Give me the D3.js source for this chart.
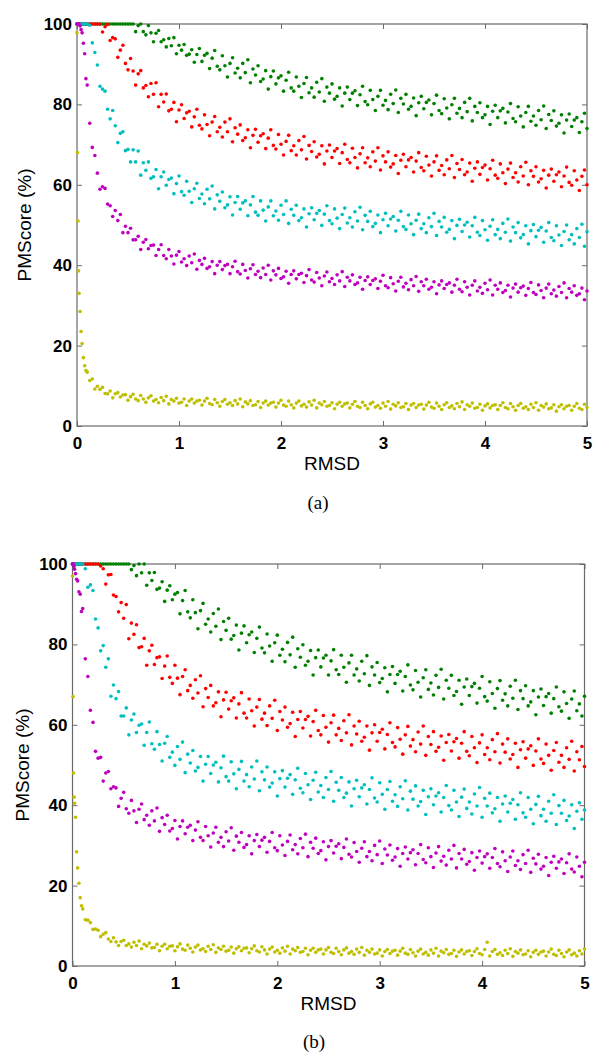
<!DOCTYPE html>
<html><head><meta charset="utf-8">
<script src="https://cdn.jsdelivr.net/npm/d3@7"></script>
<style>body{margin:0;background:#fff}svg{display:block}</style>
</head><body>
<svg id="chart" width="600" height="1062"></svg>
<script>
// shared RMSD sample positions
const rmsd = [0,0.005,0.01,0.015,0.02,0.03,0.04,0.05,0.0625,0.075,0.0875,
0.1,0.125,0.15,0.175,0.2,0.225,0.25,0.275,
0.3,0.325,0.35,0.375,0.4,0.425,0.45,0.475,
0.5,0.525,0.55,0.575,0.6,0.625,0.65,0.675,
0.7,0.725,0.75,0.775,0.8,0.825,0.85,0.875,
0.9,0.925,0.95,0.975,1,1.025,1.05,1.075,
1.1,1.125,1.15,1.175,1.2,1.225,1.25,1.275,
1.3,1.325,1.35,1.375,1.4,1.425,1.45,1.475,
1.5,1.525,1.55,1.575,1.6,1.625,1.65,1.675,
1.7,1.725,1.75,1.775,1.8,1.825,1.85,1.875,
1.9,1.925,1.95,1.975,2,2.025,2.05,2.075,
2.1,2.125,2.15,2.175,2.2,2.225,2.25,2.275,
2.3,2.325,2.35,2.375,2.4,2.425,2.45,2.475,
2.5,2.525,2.55,2.575,2.6,2.625,2.65,2.675,
2.7,2.725,2.75,2.775,2.8,2.825,2.85,2.875,
2.9,2.925,2.95,2.975,3,3.025,3.05,3.075,
3.1,3.125,3.15,3.175,3.2,3.225,3.25,3.275,
3.3,3.325,3.35,3.375,3.4,3.425,3.45,3.475,
3.5,3.525,3.55,3.575,3.6,3.625,3.65,3.675,
3.7,3.725,3.75,3.775,3.8,3.825,3.85,3.875,
3.9,3.925,3.95,3.975,4,4.025,4.05,4.075,
4.1,4.125,4.15,4.175,4.2,4.225,4.25,4.275,
4.3,4.325,4.35,4.375,4.4,4.425,4.45,4.475,
4.5,4.525,4.55,4.575,4.6,4.625,4.65,4.675,
4.7,4.725,4.75,4.775,4.8,4.825,4.85,4.875,
4.9,4.925,4.95,4.975,5];

const xTicks = [0,1,2,3,4,5];
const yTicks = [0,20,40,60,80,100];
const seriesColors = ["#008000","#ff0000","#00bfbf","#bf00bf","#bfbf00"];
const panelLabels = ["(a)","(b)"];
const xTitle = "RMSD";
const yTitle = "PMScore (%)";

// ---- panel (a) PMScore values ----
const aGreen = [100,100,100,100,100,100,100,100,100,100,100,
100,100,100,100,100,100,100,100,
100,100,100,100,100,100,100,100,
100,100,100,98.1,99.6,100,98.1,97.3,
99.6,97.8,95.6,97.7,98.4,95.6,96.1,94.3,
96.4,94.6,96.6,92.6,94.7,93.5,94.9,92.2,
92.5,93.6,90.5,92.4,93.9,90.7,92.2,92.7,
88.9,91.5,93.4,89.5,88.6,92.1,89.6,86.8,
90.2,91.6,87.8,89.0,86.6,90.2,87.9,91.1,
85.4,88.8,87.3,89.6,85.7,86.3,88.4,83.8,
86.9,88.3,85.1,86.6,87.1,83.3,86.0,88.0,
84.1,83.3,86.8,84.5,81.7,85.2,86.7,82.9,
84.1,81.8,85.5,83.1,86.4,80.8,84.3,82.8,
85.1,81.3,82.0,84.1,79.6,82.8,84.3,81.2,
82.8,83.4,79.7,82.4,84.5,80.7,79.9,83.5,
81.2,78.5,82.0,83.5,79.8,81.0,78.7,82.5,
80.2,83.6,78.0,81.5,80.1,82.5,78.8,79.5,
81.6,77.2,80.4,82.0,78.9,80.5,81.1,77.4,
80.2,82.3,78.5,77.7,81.4,79.1,76.4,79.9,
81.5,77.8,79.0,76.7,80.5,78.2,81.5,75.9,
79.5,78.0,80.4,76.7,77.4,79.5,75.0,78.3,
79.8,76.7,78.4,79.0,75.4,78.1,80.2,76.5,
75.7,79.4,77.1,74.4,78.0,79.5,75.8,77.1,
74.8,78.5,76.2,79.6,74.0,77.5,76.0,78.4,
74.6,75.3,77.4,72.9,76.1,77.6,74.5,76.1,
76.7,73.0,75.7,77.8,74.0];

const aRed = [100,100,100,100,100,100,100,100,100,100,100,
100,100,100,100,100,100,98.0,99.3,
99.9,95.9,96.6,96.3,91.7,93.5,94.7,90.2,
88.6,91.4,88.3,84.8,87.6,88.4,84.1,84.7,
81.9,85.2,82.5,85.4,79.4,82.5,80.6,82.6,
78.4,78.8,80.5,75.7,78.6,79.9,76.5,77.9,
78.3,74.4,76.9,78.8,74.8,73.9,77.4,75.0,
72.2,75.6,77.0,73.2,74.3,71.9,75.6,73.2,
76.4,70.7,74.2,72.6,74.9,71.0,71.7,73.7,
69.2,72.3,73.8,70.6,72.2,72.7,69.0,71.6,
73.7,69.8,68.9,72.5,70.1,67.4,70.8,72.3,
68.5,69.7,67.4,71.0,68.7,72.0,66.4,69.8,
68.3,70.7,66.9,67.6,69.7,65.2,68.4,69.9,
66.8,68.4,69.0,65.3,68.0,70.1,66.3,65.5,
69.1,66.8,64.2,67.7,69.2,65.5,66.7,64.5,
68.2,65.9,69.2,63.7,67.2,65.7,68.2,64.4,
65.2,67.3,62.8,66.1,67.6,64.5,66.2,66.8,
63.2,65.9,68.0,64.3,63.5,67.1,64.9,62.2,
65.7,67.2,63.6,64.8,62.5,66.2,64.0,67.3,
61.8,65.3,63.8,66.3,62.5,63.2,65.4,60.9,
64.1,65.7,62.6,64.3,64.9,61.2,64.0,66.1,
62.4,61.6,65.2,63.0,60.3,63.9,65.4,61.8,
63.0,60.7,64.5,62.2,65.6,60.0,63.5,62.1,
64.5,60.7,61.5,63.6,59.2,62.4,63.9,60.9,
62.5,63.2,59.5,62.2,64.4,60.6,59.9,63.5,
61.2,58.6,62.1,63.7,60.0];

const aCyan = [100,100,100,100,100,100,100,100,100,100,100,
100,99.7,95.3,92.9,89.8,84.5,83.8,83.3,
78.8,76.4,78.5,74.7,70.5,72.8,73.2,68.5,
68.8,65.7,68.7,65.7,68.4,62.4,65.5,63.6,
65.7,61.6,62.0,63.8,59.0,62.0,63.2,59.9,
61.3,61.7,57.8,60.3,62.2,58.3,57.4,60.9,
58.4,55.6,59.0,60.4,56.6,57.7,55.3,58.9,
56.5,59.7,54.0,57.5,55.9,58.2,54.3,55.0,
57.0,52.5,55.6,57.1,53.9,55.5,56.0,52.3,
55.0,57.1,53.2,52.4,56.0,53.7,51.0,54.5,
56.0,52.3,53.5,51.2,54.9,52.6,56.0,50.4,
53.9,52.4,54.9,51.1,51.8,54.0,49.5,52.8,
54.3,51.3,52.9,53.6,49.9,52.7,54.8,51.1,
50.3,54.0,51.7,49.1,52.6,54.2,50.5,51.8,
49.5,53.3,51.0,54.4,48.8,52.4,50.9,53.4,
49.6,50.4,52.5,48.1,51.3,52.9,49.8,51.5,
52.1,48.5,51.2,53.4,49.6,48.9,52.5,50.3,
47.6,51.2,52.7,49.1,50.3,48.1,51.8,49.6,
52.9,47.4,50.9,49.5,51.9,48.2,48.9,51.1,
46.6,49.9,51.4,48.4,50.0,50.7,47.0,49.8,
51.9,48.2,47.4,51.1,48.8,46.2,49.7,51.3,
47.6,48.9,46.6,50.4,48.2,51.5,46.0,49.5,
48.1,50.6,46.8,47.6,49.8,45.3,48.6,50.1,
47.1,48.7,49.4,45.7,48.5,50.6,46.9,46.1,
49.8,47.5,44.9,48.4,50.0,46.3,47.6,45.3,
49.1,46.9,50.2,44.7,48.3];

const aMagenta = [100,100,100,100,100,99.5,98.6,97.8,95.2,92.6,86.4,
84.8,75.3,69.3,67.3,62.9,58.9,59.5,59.1,
55.2,54.8,52.1,53.6,51.1,52.6,48.1,49.7,
48.1,49.2,46.3,46.3,47.2,43.9,45.7,46.4,
44.1,44.9,45.0,42.4,43.9,45.1,42.4,41.6,
43.9,42.3,40.3,42.5,43.4,40.8,41.6,39.9,
42.3,40.6,42.8,39.0,41.2,40.2,41.7,39.2,
39.6,40.9,37.9,40.0,40.9,38.9,39.9,40.2,
37.9,39.6,41.0,38.4,37.8,40.2,38.7,36.8,
39.1,40.1,37.7,38.5,36.9,39.3,37.7,40.0,
36.3,38.6,37.6,39.2,36.7,37.1,38.5,35.5,
37.7,38.6,36.6,37.7,38.0,35.7,37.4,38.9,
36.3,35.8,38.2,36.8,34.9,37.3,38.3,35.9,
36.7,35.2,37.6,36.1,38.4,34.7,37.0,36.1,
37.6,35.2,35.6,37.0,34.0,36.2,37.1,35.2,
36.2,36.6,34.2,36.0,37.5,34.9,34.4,36.9,
35.4,33.6,36.0,37.0,34.6,35.5,33.9,36.4,
34.9,37.2,33.5,35.9,34.9,36.5,34.0,34.5,
35.9,32.9,35.1,36.1,34.2,35.2,35.6,33.3,
35.0,36.5,34.0,33.4,35.9,34.5,32.6,35.0,
36.1,33.6,34.5,33.0,35.5,33.9,36.3,32.6,
35.0,34.0,35.6,33.2,33.7,35.0,32.1,34.3,
35.3,33.3,34.4,34.8,32.5,34.2,35.7,33.2,
32.7,35.1,33.7,31.9,34.3,35.3,32.9,33.8,
32.3,34.7,33.2,35.6,31.9,34.2,33.3,34.9,
32.5,32.9,34.3,31.4,33.6];

const aYellow = [97.8,68.0,51.0,38.6,33.0,28.5,23.5,20.5,17.0,15.0,13.8,
13.4,11.3,11.7,9.2,9.9,9.1,9.6,8.1,
8.0,8.7,7.0,8.0,8.3,7.2,7.7,7.8,
6.4,7.3,7.9,6.7,6.3,7.6,6.7,5.9,
7.0,7.5,6.2,6.6,5.8,7.1,6.3,7.4,
5.5,6.6,6.2,6.9,5.7,5.9,6.7,5.1,
6.2,6.7,5.7,6.2,6.4,5.2,6.2,6.9,
5.6,5.3,6.6,5.8,4.9,6.1,6.6,5.4,
5.8,5.1,6.3,5.5,6.7,4.8,6.0,5.5,
6.3,5.1,5.3,6.1,4.6,5.7,6.2,5.2,
5.7,5.9,4.7,5.7,6.4,5.2,4.9,6.2,
5.3,4.5,5.7,6.2,5.0,5.4,4.7,6.0,
5.2,6.4,4.5,5.7,5.3,6.1,4.9,5.1,
5.8,4.3,5.4,5.9,4.9,5.5,5.7,4.5,
5.4,6.1,4.9,4.6,5.9,5.1,4.3,5.5,
5.9,4.7,5.1,4.4,5.7,4.9,6.1,4.2,
5.4,5.0,5.8,4.6,4.8,5.6,4.1,5.2,
5.6,4.6,5.2,5.4,4.2,5.2,5.9,4.7,
4.4,5.7,4.9,4.1,5.3,5.8,4.6,5.0,
4.3,5.6,4.8,6.0,4.1,5.3,4.9,5.7,
4.4,4.6,5.4,3.9,5.0,5.5,4.5,5.1,
5.3,4.1,5.1,5.8,4.6,4.3,5.6,4.8,
3.9,5.1,5.6,4.4,4.8,4.1,5.4,4.6,
5.8,3.9,5.1,4.7,5.5,4.3,4.5,5.3,
3.7,4.8,5.3,4.3,4.9,5.1,3.9,4.9,
5.6,4.4,4.1,5.4,4.6];

// ---- panel (b) PMScore values ----
const bGreen = [100,100,100,100,100,100,100,100,100,100,100,
100,100,100,100,100,100,100,100,
100,100,100,100,100,100,100,100,
100,100,100,98.6,99.6,97.1,100,97.8,
100,94.7,97.8,95.9,97.9,93.7,94.0,95.6,
90.7,93.5,94.6,91.1,92.5,92.9,87.6,90.9,
93.4,88.1,86.6,91.1,87.9,83.9,88.4,90.2,
85.0,86.3,83.1,87.7,84.5,88.8,81.2,85.7,
83.5,86.5,81.3,82.2,84.8,78.6,82.8,84.6,
80.4,82.4,83.1,78.0,81.5,84.3,79.1,77.9,
82.6,79.6,75.8,80.4,82.3,77.3,78.8,75.7,
80.5,77.4,81.8,74.3,78.9,76.8,79.9,74.8,
75.8,78.5,72.4,76.7,78.6,74.4,76.6,77.3,
72.4,75.9,78.7,73.7,72.5,77.3,74.3,70.6,
75.4,77.3,72.4,73.9,70.9,75.8,72.7,77.2,
69.8,74.4,72.4,75.5,70.5,71.5,74.2,68.2,
72.5,74.5,70.3,72.5,73.3,68.4,72.0,74.9,
69.9,68.7,73.5,70.6,66.9,71.7,73.7,68.8,
70.4,67.4,72.3,69.3,73.8,66.4,71.1,69.1,
72.3,67.3,68.3,71.1,65.1,69.4,71.4,67.3,
69.5,70.3,65.4,69.1,72.0,67.0,65.9,70.7,
67.8,64.1,69.0,71.0,66.1,67.7,64.7,69.6,
66.6,71.1,63.8,68.5,66.5,69.7,64.7,65.7,
68.5,62.5,66.9,68.9,64.8,67.0,67.8,62.9,
66.5,69.4,64.5,63.4,68.2,65.3,61.6,66.4,
68.4,63.5,65.2,62.2,67.1];

const bRed = [100,100,100,100,100,100,100,100,100,100,100,
100,100,100,100,100,100,100,99.5,
98.8,95.0,97.3,97.4,92.3,91.9,88.1,90.4,
86.5,89.9,81.4,85.3,82.5,84.9,79.2,79.4,
81.5,74.8,78.4,79.8,75.0,76.7,76.9,71.5,
74.6,77.1,71.8,70.3,74.8,71.6,67.5,72.0,
73.7,68.5,69.8,66.6,71.2,67.9,72.2,64.5,
69.0,66.8,69.8,64.7,65.5,68.2,62.0,66.2,
68.1,63.9,66.0,66.7,61.7,65.2,68.0,62.9,
61.7,66.4,63.5,59.7,64.4,66.3,61.4,62.9,
59.8,64.7,61.6,66.1,58.6,63.3,61.2,64.4,
59.4,60.3,63.1,57.1,61.3,63.3,59.2,61.3,
62.1,57.2,60.8,63.6,58.6,57.5,62.3,59.4,
55.7,60.5,62.4,57.5,59.1,56.1,61.0,58.0,
62.5,55.0,59.7,57.7,60.9,55.9,56.9,59.7,
53.7,58.0,60.0,55.9,58.1,58.9,54.0,57.6,
60.5,55.6,54.5,59.3,56.4,52.7,57.5,59.6,
54.7,56.3,53.3,58.2,55.2,59.7,52.4,57.1,
55.1,58.3,53.4,54.4,57.2,51.2,55.6,57.6,
53.5,55.8,56.6,51.7,55.4,58.3,53.4,52.3,
57.1,54.3,50.6,55.5,57.5,52.6,54.3,51.3,
56.3,53.3,57.8,50.5,55.2,53.2,56.5,51.5,
52.6,55.4,49.4,53.8,55.8,51.7,54.0,54.8,
49.9,53.5,56.5,51.5,50.4,55.2,52.4,48.7,
53.6,55.6,50.7,52.4,49.4,54.3,51.4,55.9,
48.5,53.3,51.3,54.6,49.6];

const bCyan = [100,100,100,100,100,100,100,100,100,100,100,
100,98.8,94.2,94.8,93.4,86.3,84.1,78.4,
79.7,74.3,76.4,67.1,69.9,66.5,68.3,62.2,
62.2,64.2,57.5,61.2,62.7,58.1,59.9,60.2,
54.9,58.1,60.7,55.3,53.9,58.3,55.1,51.0,
55.4,57.1,51.9,53.2,49.9,54.6,51.4,55.7,
48.1,52.7,50.5,53.6,48.5,49.4,52.1,46.0,
50.2,52.1,47.9,50.0,50.7,45.8,49.3,52.2,
47.1,46.0,50.8,47.8,44.1,48.9,50.9,46.0,
47.6,44.6,49.5,46.5,51.0,43.6,48.3,46.3,
49.5,44.5,45.5,48.3,42.3,46.6,48.6,44.5,
46.7,47.6,42.7,46.3,49.2,44.2,43.1,47.9,
45.1,41.4,46.2,48.2,43.3,44.9,41.9,46.9,
43.9,48.4,41.0,45.7,43.7,46.9,41.9,43.0,
45.8,39.8,44.1,46.2,42.1,44.3,45.1,40.3,
43.9,46.8,41.8,40.8,45.6,42.7,39.0,43.9,
45.9,41.0,42.6,39.7,44.6,41.6,46.1,38.8,
43.5,41.5,44.8,39.8,40.9,43.7,37.7,42.1,
44.1,40.1,42.3,43.1,38.3,41.9,44.9,39.9,
38.8,43.7,40.8,37.2,42.0,44.0,39.2,40.8,
37.8,42.8,39.8,44.4,37.0,41.7,39.8,43.0,
38.1,39.1,41.9,36.0,40.3,42.3,38.3,40.5,
41.4,36.5,40.1,43.1,38.1,37.0,41.9,39.0,
35.4,40.2,42.2,37.4,39.0,36.0,41.0,38.0,
42.6,35.2,39.9,38.0,41.2,36.2,37.3,40.1,
34.2,38.5,40.6,36.5,38.8];

const bMagenta = [100,100,100,99.4,98.7,97.6,96.2,95.8,93.1,92.5,88.2,
88.9,76.4,72.0,63.6,60.6,53.4,51.7,51.9,
46.0,48.0,48.4,44.1,44.6,44.3,39.7,41.7,
43.2,39.1,38.0,41.2,38.6,35.7,39.0,40.3,
36.4,37.5,35.0,38.6,36.1,39.3,33.5,36.9,
35.2,37.5,33.6,34.2,36.2,31.6,34.7,36.1,
32.9,34.5,35.0,31.2,33.8,35.9,32.0,31.2,
34.7,32.4,29.6,33.1,34.5,30.8,32.0,29.7,
33.4,31.1,34.4,28.8,32.3,30.8,33.2,29.5,
30.2,32.4,27.9,31.2,32.7,29.7,31.3,32.0,
28.3,31.0,33.2,29.4,28.7,32.4,30.1,27.5,
31.0,32.6,28.9,30.2,27.9,31.7,29.4,32.8,
27.2,30.8,29.3,31.8,28.0,28.7,30.9,26.4,
29.7,31.2,28.1,29.8,30.4,26.7,29.5,31.6,
27.8,27.1,30.7,28.5,25.8,29.3,30.9,27.2,
28.5,26.2,30.0,27.7,31.1,25.5,29.1,27.6,
30.1,26.3,27.1,29.2,24.8,28.0,29.6,26.6,
28.2,28.9,25.2,28.0,30.2,26.5,25.7,29.4,
27.2,24.5,28.1,29.7,26.1,27.3,25.1,28.8,
26.6,30.0,24.4,28.0,26.6,29.0,25.3,26.0,
28.2,23.8,27.0,28.6,25.6,27.2,27.9,24.3,
27.0,29.2,25.5,24.7,28.4,26.2,23.5,27.1,
28.6,25.0,26.2,24.0,27.7,25.5,28.8,23.3,
26.8,25.4,27.8,24.1,24.8,27.0,22.5,25.8,
27.3,24.3,25.9,26.6,23.0,25.7,27.9,24.1,
23.4,27.1,24.8,22.2,25.8];

const bYellow = [97.0,67.0,48.0,42.0,40.5,37.0,28.4,24.4,20.6,17.0,15.0,
14.2,11.5,11.4,10.8,9.1,9.2,8.9,7.3,
7.9,8.3,6.7,6.1,7.0,6.0,5.1,6.1,
6.4,5.1,5.5,4.7,5.9,5.1,6.2,4.3,
5.4,5.0,5.7,4.5,4.6,5.4,3.8,4.9,
5.4,4.3,4.9,5.0,3.8,4.8,5.5,4.2,
3.9,5.2,4.4,3.5,4.7,5.2,4.0,4.3,
3.6,4.9,4.1,5.3,3.4,4.5,4.1,4.9,
3.7,3.9,4.7,3.2,4.3,4.8,3.8,4.4,
4.5,3.3,4.3,5.0,3.8,3.5,4.8,4.0,
3.0,4.2,4.7,3.5,3.9,3.2,4.5,3.7,
4.9,3.0,4.2,3.8,4.6,3.4,3.6,4.4,
2.8,3.9,4.4,3.4,4.0,4.2,3.0,4.0,
4.6,3.4,3.1,4.4,3.6,2.8,4.0,4.5,
3.2,3.6,2.9,4.2,3.4,4.6,2.7,3.9,
3.4,4.2,3.0,3.2,4.0,2.5,3.6,4.1,
3.1,3.7,3.9,2.7,3.7,4.4,3.2,2.9,
4.1,3.3,2.5,3.7,4.2,3.0,3.4,2.7,
4.0,3.2,4.4,2.5,3.7,3.3,4.1,2.9,
3.1,3.9,2.4,3.5,4.0,3.0,3.6,3.8,
2.6,3.6,4.3,3.1,2.8,4.1,5.9,2.5,
3.6,4.1,2.9,3.3,2.6,3.9,3.1,4.3,
2.4,3.6,3.2,4.0,2.8,3.0,3.8,2.3,
3.4,3.9,2.9,3.5,3.7,2.5,3.5,4.2,
2.9,2.6,3.9,3.1,2.3,3.5,4.0,2.8,
3.2,2.5,3.8,3.0,4.2];

const panelASeries = [aGreen, aRed, aCyan, aMagenta, aYellow];
const panelBSeries = [bGreen, bRed, bCyan, bMagenta, bYellow];

const svg = d3.select("#chart");
const FONT = "'Liberation Sans', Arial, Helvetica, sans-serif";
const AXIS_COLOR = "#6a6a6a";

function drawPanel(series, box, tag) {
  const g = svg.append("g");
  const x = d3.scaleLinear().domain([0, 5]).range([box.left, box.right]);
  const y = d3.scaleLinear().domain([0, 100]).range([box.bottom, box.top]);

  g.append("rect")
    .attr("x", box.left).attr("y", box.top)
    .attr("width", box.right - box.left).attr("height", box.bottom - box.top)
    .attr("fill", "none").attr("stroke", AXIS_COLOR).attr("stroke-width", 1.2);

  const style = sel => {
    sel.select(".domain").remove();
    sel.attr("font-size", null).attr("font-family", null);
    sel.selectAll(".tick line").attr("stroke", AXIS_COLOR);
    sel.selectAll(".tick text")
      .attr("fill", "#000")
      .style("font-family", FONT)
      .style("font-weight", "bold")
      .style("font-size", "17px");
  };

  g.append("g").attr("transform", `translate(0,${box.bottom})`)
    .call(d3.axisBottom(x).tickValues(xTicks).tickSizeInner(-5).tickSizeOuter(0)
      .tickPadding(11).tickFormat(d3.format("d"))).call(style);
  g.append("g").attr("transform", `translate(0,${box.top})`)
    .call(d3.axisTop(x).tickValues(xTicks).tickSizeInner(-5).tickSizeOuter(0)
      .tickFormat(() => "")).call(style);
  g.append("g").attr("transform", `translate(${box.left},0)`)
    .call(d3.axisLeft(y).tickValues(yTicks).tickSizeInner(-5).tickSizeOuter(0)
      .tickPadding(5).tickFormat(d3.format("d"))).call(style);
  g.append("g").attr("transform", `translate(${box.right},0)`)
    .call(d3.axisRight(y).tickValues(yTicks).tickSizeInner(-5).tickSizeOuter(0)
      .tickFormat(() => "")).call(style);

  series.forEach((vals, si) => {
    const pts = vals.map((v, i) => [rmsd[i], v]).filter(d => d[0] !== undefined);
    g.append("g").attr("fill", seriesColors[si])
      .selectAll("circle").data(pts).join("circle")
      .attr("cx", d => x(d[0])).attr("cy", d => y(d[1])).attr("r", 1.8);
  });

  g.append("text")
    .attr("x", (box.left + box.right) / 2).attr("y", box.bottom + 44)
    .attr("text-anchor", "middle")
    .style("font-family", FONT).style("font-size", "19px").attr("fill", "#000")
    .text(xTitle);

  g.append("text")
    .attr("transform", `translate(${box.yTitleX},${(box.top + box.bottom) / 2}) rotate(-90)`)
    .attr("text-anchor", "middle")
    .style("font-family", FONT).style("font-size", "19px").attr("fill", "#000")
    .text(yTitle);

  g.append("text")
    .attr("x", box.tagX).attr("y", box.tagY)
    .attr("text-anchor", "middle")
    .style("font-family", "'Liberation Serif', 'DejaVu Serif', serif")
    .style("font-size", "19px").attr("fill", "#000")
    .text(tag);
}

drawPanel(panelASeries, {left: 77, right: 587, top: 24, bottom: 426, yTitleX: 31, tagX: 318, tagY: 509}, panelLabels[0]);
drawPanel(panelBSeries, {left: 72.5, right: 584.5, top: 564, bottom: 966, yTitleX: 29, tagX: 314, tagY: 1048}, panelLabels[1]);
</script>
</body></html>
